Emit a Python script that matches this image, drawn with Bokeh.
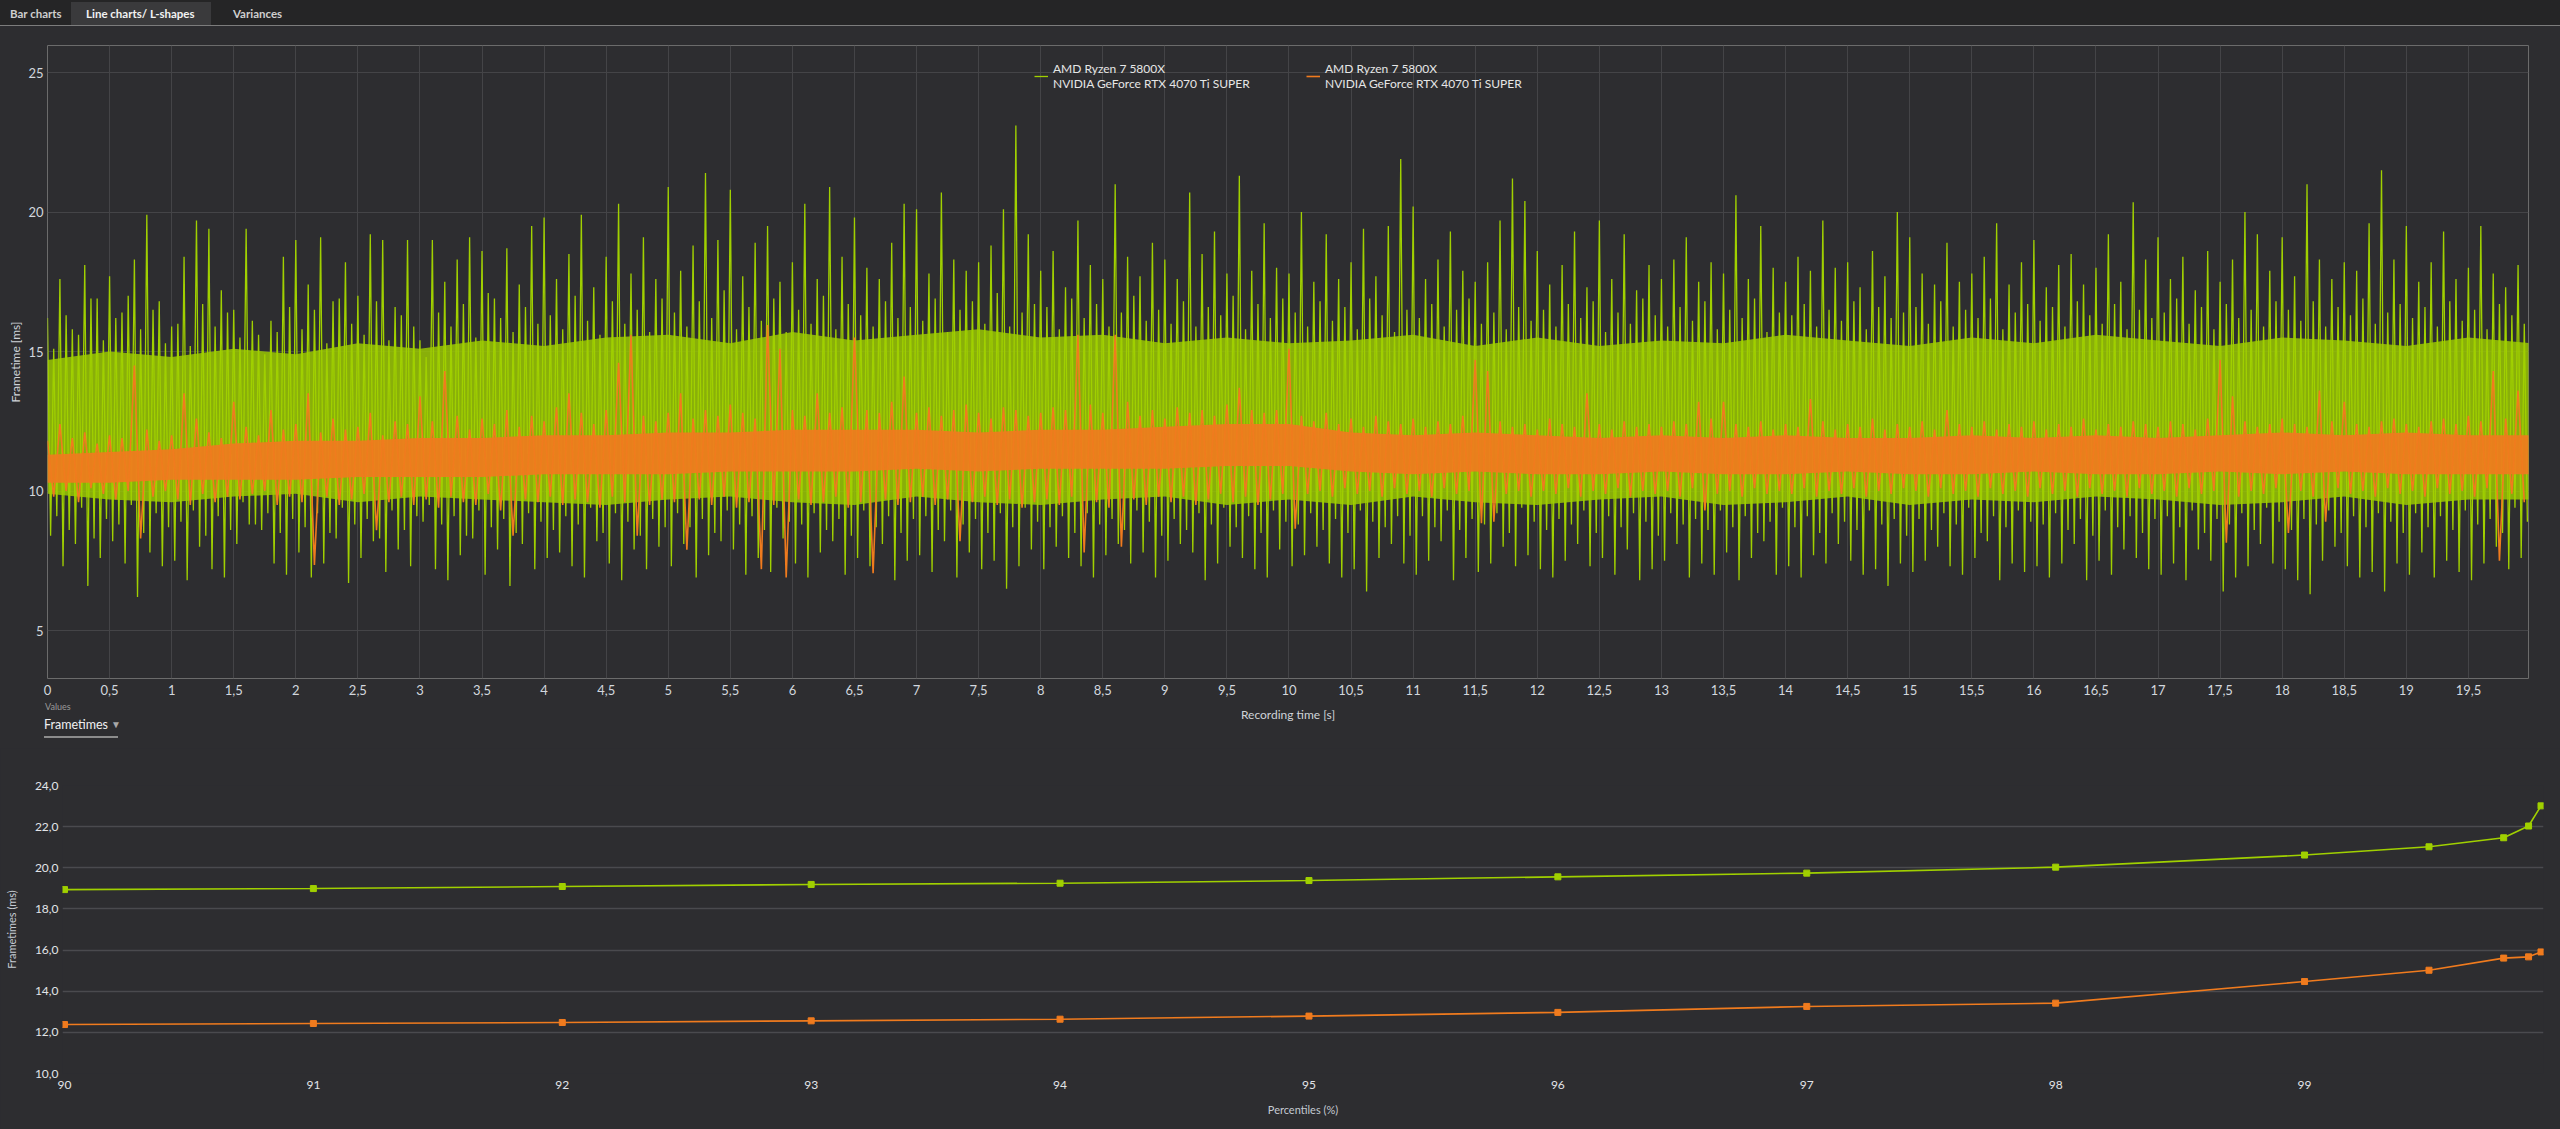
import numpy as np
from bokeh.plotting import figure
from bokeh.models import (ColumnDataSource, Range1d, FixedTicker, CustomJSTickFormatter,
                          Legend, LegendItem, Div)
from bokeh.layouts import column
from bokeh.embed import file_html
from bokeh.resources import INLINE

# ---------------- data ----------------
tab_names = ["Bar charts", "Line charts/ L-shapes", "Variances"]
series_names = ["AMD Ryzen 7 5800X\nNVIDIA GeForce RTX 4070 Ti SUPER",
                "AMD Ryzen 7 5800X\nNVIDIA GeForce RTX 4070 Ti SUPER"]
selector_caption = "Values"
selector_value = "Frametimes"

time_ticks = [0, 0.5, 1, 1.5, 2, 2.5, 3, 3.5, 4, 4.5, 5, 5.5, 6, 6.5, 7, 7.5, 8, 8.5, 9, 9.5,
              10, 10.5, 11, 11.5, 12, 12.5, 13, 13.5, 14, 14.5, 15, 15.5, 16, 16.5, 17, 17.5,
              18, 18.5, 19, 19.5]
frametime_ticks = [5, 10, 15, 20, 25]

bin_width_s = 0.1   # per bin: tallest frame, shortest frame, typical long, typical short
band_step_s = 0.5   # dense core band sampled every 0.5 s

green_hi = [
    16.2, 17.6, 15.8, 18.1, 16.9, 17.7, 16.4, 18.3, 19.9, 16.8,
    15.9, 18.4, 19.7, 19.4, 17.2, 16.5, 19.4, 15.6, 16.1, 18.4,
    19.0, 17.4, 19.1, 16.8, 18.2, 17.0, 19.2, 19.0, 16.6, 19.0,
    15.4, 19.0, 17.5, 18.3, 19.1, 18.6, 16.9, 18.7, 17.4, 19.5,
    19.8, 17.6, 18.5, 19.9, 17.3, 18.4, 20.3, 17.8, 19.1, 17.6,
    20.9, 17.9, 18.8, 21.4, 19.0, 20.8, 17.7, 18.9, 19.5, 17.5,
    18.2, 20.3, 17.6, 20.9, 18.4, 19.8, 18.0, 17.6, 18.9, 20.3,
    20.1, 17.8, 20.7, 18.3, 17.9, 18.2, 18.8, 20.1, 23.1, 19.2,
    17.9, 18.6, 17.3, 19.7, 18.1, 17.6, 21.0, 18.4, 17.7, 18.9,
    18.3, 17.6, 20.7, 18.5, 19.3, 17.8, 21.3, 17.9, 19.6, 18.0,
    17.8, 20.0, 17.5, 19.2, 17.6, 18.2, 19.4, 17.7, 19.5, 21.9,
    20.2, 17.6, 18.3, 19.3, 17.9, 17.5, 18.2, 19.7, 21.2, 20.4,
    18.6, 17.4, 18.1, 19.3, 17.3, 19.7, 17.6, 19.2, 17.2, 18.1,
    17.6, 18.3, 19.1, 17.5, 18.2, 17.8, 20.6, 17.6, 19.5, 18.0,
    17.5, 18.4, 17.9, 19.7, 18.0, 18.2, 17.3, 18.6, 17.7, 20.0,
    19.1, 17.8, 17.4, 18.9, 17.5, 17.8, 18.4, 19.6, 17.4, 18.2,
    19.0, 17.3, 18.1, 18.5, 17.4, 18.0, 19.2, 17.5, 20.35, 18.3,
    19.1, 17.6, 18.4, 17.2, 18.6, 17.5, 18.3, 20.0, 19.2, 17.9,
    19.1, 17.7, 21.0, 18.3, 17.6, 18.2, 17.9, 19.6, 21.5, 18.3,
    19.5, 17.5, 18.2, 19.3, 17.6, 18.0, 19.5, 17.8, 17.3, 18.1,
]
green_lo = [
    8.4, 7.3, 8.1, 6.6, 7.6, 8.2, 7.4, 6.2, 7.8, 7.3,
    7.5, 6.8, 8.0, 7.2, 6.9, 8.1, 8.8, 8.6, 7.4, 7.0,
    7.8, 6.9, 7.4, 8.3, 6.7, 7.6, 8.2, 7.1, 7.9, 7.3,
    8.9, 7.2, 6.8, 7.7, 8.3, 7.0, 7.9, 6.6, 8.1, 7.2,
    7.6, 7.8, 7.3, 6.9, 8.2, 7.4, 6.8, 7.9, 7.2, 8.0,
    7.3, 8.1, 6.9, 7.7, 8.2, 7.9, 7.0, 7.6, 7.1, 8.3,
    7.4, 6.9, 7.8, 8.2, 7.0, 7.6, 7.3, 8.1, 6.8, 7.5,
    7.7, 7.1, 8.2, 6.9, 7.8, 7.2, 7.5, 6.5, 7.3, 7.9,
    7.2, 8.0, 7.6, 7.3, 6.9, 7.7, 8.1, 7.4, 7.8, 6.9,
    7.5, 8.1, 7.8, 6.8, 7.4, 8.0, 7.6, 7.2, 6.9, 7.9,
    7.3, 7.7, 8.0, 7.4, 6.9, 7.2, 6.4, 7.6, 8.1, 7.4,
    7.0, 7.5, 8.2, 6.8, 7.6, 7.1, 7.4, 8.0, 7.3, 7.7,
    7.2, 6.9, 7.5, 8.1, 7.3, 7.6, 7.0, 7.9, 6.8, 7.2,
    7.5, 8.1, 6.9, 7.4, 7.0, 7.8, 6.8, 7.6, 8.2, 7.0,
    7.3, 6.9, 7.7, 7.4, 8.1, 7.5, 7.0, 7.2, 6.6, 7.4,
    7.1, 7.5, 8.0, 7.3, 7.0, 7.6, 8.2, 6.8, 7.4, 7.1,
    7.3, 6.9, 7.4, 8.1, 6.8, 7.5, 7.0, 7.9, 7.6, 7.2,
    7.0, 7.4, 6.8, 7.9, 7.5, 6.4, 6.9, 7.3, 8.1, 7.4,
    7.2, 6.8, 6.3, 7.5, 8.0, 7.3, 6.9, 7.1, 6.4, 7.4,
    7.0, 7.8, 6.9, 7.5, 7.1, 6.8, 7.4, 8.0, 7.2, 7.6,
]
green_hi2 = [
    15.1, 16.3, 15.6, 16.9, 15.4, 16.2, 17.0, 15.8, 16.5, 15.3,
    16.0, 15.2, 16.7, 15.9, 16.4, 15.5, 16.1, 14.9, 15.7, 16.6,
    15.8, 16.5, 15.3, 16.9, 16.0, 15.6, 16.8, 15.4, 16.3, 15.9,
    14.8, 16.4, 15.9, 16.7, 15.5, 17.1, 16.2, 15.7, 16.6, 16.0,
    16.3, 15.8, 17.0, 16.1, 15.6, 16.8, 16.0, 16.5, 15.7, 16.9,
    16.4, 15.9, 16.8, 16.2, 17.2, 15.8, 16.6, 16.1, 16.9, 15.7,
    16.5, 16.0, 17.0, 15.8, 16.7, 16.3, 15.9, 16.8, 16.2, 16.6,
    16.1, 16.9, 15.7, 16.5, 16.8, 16.0, 17.1, 15.9, 16.4, 16.7,
    16.6, 15.8, 16.9, 16.2, 16.7, 15.9, 16.4, 17.0, 16.1, 16.5,
    16.0, 16.8, 15.9, 16.6, 16.3, 17.0, 15.8, 16.7, 16.2, 16.9,
    16.4, 15.9, 16.8, 16.1, 16.6, 15.8, 16.9, 16.3, 15.7, 16.5,
    16.2, 16.7, 15.9, 16.5, 16.9, 16.0, 16.4, 15.8, 16.6, 16.1,
    16.5, 15.9, 16.7, 16.2, 16.8, 15.7, 16.4, 16.0, 16.9, 16.3,
    15.9, 16.6, 16.1, 16.8, 15.8, 16.5, 16.2, 16.9, 15.7, 16.4,
    16.3, 16.7, 15.9, 16.5, 16.1, 16.8, 15.8, 16.6, 16.2, 16.4,
    16.6, 16.0, 16.8, 15.9, 16.5, 16.2, 16.9, 15.8, 16.4, 16.7,
    16.1, 16.6, 15.9, 16.8, 16.3, 16.0, 16.7, 15.8, 16.5, 16.2,
    16.4, 16.9, 16.0, 16.6, 15.8, 16.7, 16.2, 16.5, 15.9, 16.8,
    16.5, 16.1, 16.8, 15.9, 16.6, 16.3, 16.9, 16.0, 16.4, 16.7,
    16.2, 16.6, 15.9, 16.8, 16.1, 16.5, 15.8, 16.7, 16.3, 16.0,
]
green_lo2 = [
    9.1, 8.6, 9.4, 8.3, 9.0, 8.8, 9.5, 8.5, 9.2, 8.7,
    8.9, 9.3, 8.4, 9.1, 8.6, 9.6, 8.8, 9.2, 8.5, 9.0,
    8.7, 9.2, 8.5, 9.4, 8.8, 9.0, 8.3, 9.3, 8.6, 9.1,
    9.5, 8.8, 9.1, 8.4, 9.3, 8.7, 9.0, 8.5, 9.2, 8.9,
    8.6, 9.1, 8.8, 9.4, 8.5, 9.2, 8.9, 8.4, 9.0, 8.7,
    9.2, 8.7, 9.0, 8.5, 9.3, 8.8, 9.1, 8.6, 9.4, 8.9,
    8.8, 9.2, 8.6, 9.0, 8.4, 9.3, 8.7, 9.1, 8.5, 9.0,
    9.1, 8.6, 9.3, 8.8, 9.0, 8.5, 9.2, 8.7, 9.4, 8.9,
    8.7, 9.1, 8.5, 9.2, 8.8, 9.0, 8.6, 9.3, 8.9, 8.4,
    9.0, 8.6, 9.2, 8.8, 9.4, 8.7, 9.1, 8.5, 9.3, 8.9,
    8.8, 9.2, 8.6, 9.0, 8.5, 9.3, 8.9, 8.7, 9.1, 8.4,
    9.1, 8.7, 9.3, 8.6, 9.0, 8.8, 9.2, 8.5, 9.4, 8.9,
    8.6, 9.0, 8.8, 9.3, 8.5, 9.1, 8.7, 9.2, 8.9, 8.4,
    9.2, 8.8, 9.0, 8.6, 9.3, 8.7, 9.1, 8.5, 8.9, 9.4,
    8.7, 9.1, 8.5, 9.2, 8.9, 8.6, 9.3, 8.8, 9.0, 8.4,
    9.0, 8.6, 9.2, 8.8, 9.4, 8.5, 9.1, 8.7, 9.3, 8.9,
    8.8, 9.2, 8.6, 9.0, 8.4, 9.3, 8.7, 9.1, 8.5, 9.0,
    9.1, 8.7, 9.3, 8.5, 9.0, 8.8, 9.2, 8.6, 9.4, 8.9,
    8.6, 9.0, 8.8, 9.3, 8.5, 9.1, 8.7, 9.2, 8.9, 8.5,
    9.2, 8.7, 9.1, 8.6, 9.3, 8.8, 9.0, 8.5, 9.4, 8.9,
]
green_core_top = [14.7, 15.0, 14.8, 15.1, 14.9, 15.3, 15.1, 15.4, 15.2, 15.5, 15.6, 15.3, 15.7, 15.4,
                  15.6, 15.8, 15.5, 15.6, 15.3, 15.5, 15.3, 15.4, 15.6, 15.2, 15.5, 15.2, 15.4, 15.3,
                  15.6, 15.4, 15.2, 15.5, 15.3, 15.6, 15.4, 15.2, 15.5, 15.4, 15.2, 15.5, 15.3]
green_core_bot = [9.9, 9.7, 9.6, 9.8, 9.9, 9.6, 9.8, 9.7, 9.6, 9.5, 9.7, 9.8, 9.6, 9.5, 9.8, 9.6,
                  9.5, 9.7, 9.8, 9.5, 9.7, 9.5, 9.8, 9.6, 9.5, 9.7, 9.8, 9.5, 9.6, 9.8, 9.5, 9.7,
                  9.6, 9.8, 9.7, 9.5, 9.6, 9.8, 9.5, 9.7, 9.7]

orange_hi = [
    11.8, 12.4, 11.9, 12.1, 11.7, 12.0, 11.9, 14.5, 12.2, 11.8,
    12.0, 13.5, 12.6, 12.1, 11.9, 13.2, 12.3, 12.0, 12.9, 12.2,
    12.4, 13.5, 12.1, 12.6, 12.2, 12.3, 12.8, 12.0, 12.5, 12.4,
    13.4, 12.5, 14.3, 12.7, 12.2, 12.6, 12.4, 12.9, 12.3, 12.7,
    12.5, 13.0, 13.5, 12.8, 12.4, 12.9, 14.6, 15.6, 12.7, 12.5,
    12.8, 13.5, 12.6, 12.9, 12.7, 13.1, 12.8, 12.6, 15.95, 15.1,
    12.9, 12.7, 13.5, 12.8, 13.0, 15.5, 12.9, 12.8, 13.2, 14.1,
    12.8, 13.0, 12.7, 12.9, 13.1, 12.8, 12.6, 13.0, 12.9, 12.7,
    12.8, 13.0, 12.9, 15.6, 13.1, 12.8, 15.6, 13.2, 12.7, 12.9,
    12.6, 13.0, 12.8, 12.9, 12.7, 13.1, 13.7, 12.9, 12.8, 12.9,
    15.1, 12.7, 12.5, 12.8, 12.4, 12.6, 12.3, 12.7, 12.5, 12.4,
    12.6, 12.3, 12.5, 12.4, 12.7, 14.7, 14.3, 12.5, 12.3, 12.4,
    12.2, 12.6, 12.4, 12.3, 13.5, 12.4, 12.2, 12.5, 12.3, 12.4,
    12.3, 12.5, 12.4, 13.2, 12.6, 13.2, 12.4, 12.3, 12.5, 12.2,
    12.4, 12.3, 13.3, 12.5, 12.2, 12.4, 12.3, 12.6, 12.2, 12.4,
    12.3, 12.5, 12.2, 12.9, 12.4, 12.3, 12.5, 12.2, 12.4, 12.3,
    12.5, 12.2, 12.4, 12.3, 12.6, 12.2, 12.4, 12.3, 12.5, 12.4,
    12.3, 12.5, 12.4, 12.2, 12.6, 14.7, 13.4, 12.5, 12.3, 12.4,
    12.6, 12.4, 12.3, 13.6, 12.5, 13.2, 12.4, 12.3, 12.5, 12.6,
    12.4, 12.3, 12.5, 12.6, 12.4, 12.7, 12.5, 14.3, 12.6, 13.6,
]
orange_lo = [
    9.8, 10.0, 9.6, 10.1, 9.9, 9.7, 10.0, 8.3, 9.8, 10.0,
    9.7, 9.5, 9.9, 9.6, 9.8, 9.7, 9.9, 10.0, 9.5, 9.8,
    9.6, 7.35, 9.8, 9.5, 9.7, 9.9, 8.6, 9.6, 9.8, 9.5,
    9.7, 9.4, 9.8, 9.6, 9.5, 9.9, 9.3, 8.4, 9.7, 9.6,
    9.8, 9.5, 9.7, 9.6, 9.4, 9.8, 9.6, 8.4, 9.5, 9.7,
    9.6, 7.9, 9.7, 9.5, 9.8, 9.4, 9.6, 7.2, 9.5, 6.9,
    9.7, 9.5, 9.6, 9.8, 9.4, 9.6, 7.05, 9.7, 9.5, 9.6,
    9.8, 9.5, 9.7, 8.2, 9.6, 9.8, 9.5, 9.7, 9.4, 9.6,
    9.7, 9.5, 9.8, 7.8, 9.6, 9.4, 8.0, 9.7, 9.5, 9.8,
    9.6, 9.8, 9.5, 9.7, 9.9, 9.6, 9.8, 9.5, 9.7, 9.9,
    8.65, 9.9, 10.0, 9.8, 10.1, 9.9, 10.0, 9.8, 10.1, 9.9,
    10.0, 9.8, 10.1, 9.9, 10.0, 8.85, 8.9, 9.9, 10.0, 9.8,
    10.0, 9.9, 10.1, 9.8, 10.0, 9.9, 10.1, 9.8, 10.0, 9.9,
    10.0, 9.8, 10.1, 9.3, 9.9, 10.0, 9.8, 10.1, 9.9, 10.0,
    9.9, 10.1, 9.8, 10.0, 9.9, 10.1, 9.8, 10.0, 9.9, 10.1,
    10.0, 9.8, 10.1, 9.9, 10.0, 9.8, 10.1, 9.9, 10.0, 9.8,
    10.1, 9.9, 10.0, 9.8, 10.1, 9.9, 10.0, 9.8, 10.1, 9.9,
    10.0, 9.8, 10.1, 9.9, 10.0, 8.15, 9.8, 10.0, 9.9, 10.1,
    8.5, 10.0, 9.8, 8.9, 10.1, 9.9, 10.0, 9.8, 10.1, 9.9,
    10.0, 9.8, 10.1, 9.9, 10.0, 9.8, 10.1, 7.5, 9.9, 9.6,
]
orange_core_top = [11.3, 11.4, 11.5, 11.7, 11.8, 11.8, 11.9, 11.9, 12.0, 12.0, 12.1, 12.1, 12.2, 12.2,
                   12.2, 12.1, 12.2, 12.2, 12.3, 12.4, 12.4, 12.1, 12.0, 12.1, 12.0, 11.9, 12.0, 11.9,
                   12.0, 11.9, 11.9, 12.0, 11.9, 12.0, 11.9, 12.0, 12.1, 12.0, 12.1, 12.0, 12.0]
orange_core_bot = [10.3, 10.3, 10.4, 10.4, 10.4, 10.5, 10.5, 10.5, 10.6, 10.6, 10.6, 10.7, 10.7, 10.7,
                   10.8, 10.7, 10.8, 10.8, 10.8, 10.9, 10.9, 10.7, 10.6, 10.7, 10.6, 10.6, 10.7, 10.6,
                   10.6, 10.7, 10.6, 10.6, 10.7, 10.6, 10.6, 10.7, 10.6, 10.7, 10.6, 10.6, 10.6]

percentiles = [90, 91, 92, 93, 94, 95, 96, 97, 98, 99, 99.5, 99.8, 99.9, 99.95]
green_pct = [18.94, 18.99, 19.09, 19.19, 19.25, 19.38, 19.56, 19.74, 20.03, 20.62, 21.02, 21.46, 22.03, 23.01]
orange_pct = [12.38, 12.43, 12.48, 12.56, 12.64, 12.79, 12.97, 13.26, 13.42, 14.47, 15.02, 15.61, 15.67, 15.91]
pct_ticks = [90, 91, 92, 93, 94, 95, 96, 97, 98, 99]
pct_y_ticks = [10, 12, 14, 16, 18, 20, 22, 24]

# ---------------- style ----------------
BG = "#2d2d30"
GREEN = "#a0d000"
ORANGE = "#f07b1e"
FONT = "Lato"
GRID = "#444447"


def zigzag(step, *series):
    """Interleave several per-bin series into one frame-by-frame polyline."""
    n = len(series[0])
    k = len(series)
    t = np.arange(n) * step
    x = np.empty(n * k)
    y = np.empty(n * k)
    for j, s in enumerate(series):
        x[j::k] = t + step * j / k
        y[j::k] = s
    return x, y


gx, gy = zigzag(bin_width_s, green_hi, green_lo, green_hi2, green_lo2)
ox, oy = zigzag(bin_width_s, orange_hi, orange_lo)
band_t = np.arange(len(green_core_top)) * band_step_s

src_g = ColumnDataSource(dict(x=gx, y=gy))
src_o = ColumnDataSource(dict(x=ox, y=oy))
src_gb = ColumnDataSource(dict(t=band_t, lo=green_core_bot, hi=green_core_top))
src_ob = ColumnDataSource(dict(t=band_t, lo=orange_core_bot, hi=orange_core_top))

comma_fmt = CustomJSTickFormatter(code="return String(tick).replace('.', ',');")
comma1_fmt = CustomJSTickFormatter(code="return tick.toFixed(1).replace('.', ',');")

# ---------------- tab bar ----------------
tab_html = (
    '<div style="position:relative;width:2560px;height:26px;background:#252526;'
    'font-family:Lato,sans-serif;font-weight:700;font-size:11.5px;color:#cfcfcf;">'
    '<div style="position:absolute;left:0;top:25px;width:2560px;height:1px;background:#7c7c7c;"></div>'
    '<div style="position:absolute;left:71px;top:2px;width:140px;height:23px;background:#3a3a3c;"></div>'
    f'<span style="position:absolute;left:10px;top:6px;">{tab_names[0]}</span>'
    f'<span style="position:absolute;left:86px;top:6px;color:#f2f2f2;">{tab_names[1]}</span>'
    f'<span style="position:absolute;left:233px;top:6px;">{tab_names[2]}</span>'
    '</div>'
)
tabs = Div(text=tab_html, width=2560, height=26, margin=0,
           styles={"background-color": "#252526"})

# ---------------- frametime chart ----------------
# left border kept equal to the L-shape chart's (62 px); the plot is shifted 15 px left
p1 = figure(width=2575, height=722, x_range=Range1d(0, 19.984), y_range=Range1d(3.28, 25.97),
            output_backend="svg", toolbar_location=None, margin=(0, 0, 0, -15),
            min_border_left=62, min_border_right=17, min_border_top=19, min_border_bottom=70,
            background_fill_color=BG, border_fill_color=BG, outline_line_color="#6b6b6b")

p1.varea(x="t", y1="lo", y2="hi", source=src_gb, fill_color=GREEN, fill_alpha=0.8)
g_line = p1.line(x="x", y="y", source=src_g, line_color=GREEN, line_width=1.3)
p1.varea(x="t", y1="lo", y2="hi", source=src_ob, fill_color=ORANGE, fill_alpha=0.92)
o_line = p1.line(x="x", y="y", source=src_o, line_color=ORANGE, line_width=1.6)

p1.xaxis.ticker = FixedTicker(ticks=time_ticks)
p1.yaxis.ticker = FixedTicker(ticks=frametime_ticks)
p1.xaxis.formatter = comma_fmt
p1.xaxis.axis_label = "Recording time [s]"
p1.yaxis.axis_label = "Frametime [ms]"
for ax in (p1.xaxis[0], p1.yaxis[0]):
    ax.axis_line_color = None
    ax.major_tick_line_color = None
    ax.minor_tick_line_color = None
    ax.major_tick_out = 0
    ax.major_tick_in = 0
    ax.major_label_text_font = FONT
    ax.major_label_text_font_size = "13px"
    ax.major_label_text_color = "#d2d7de"
    ax.axis_label_text_font = FONT
    ax.axis_label_text_font_size = "12px"
    ax.axis_label_text_font_style = "normal"
    ax.axis_label_text_color = "#cfd3d8"
p1.xaxis.major_label_standoff = 6
p1.xaxis.axis_label_standoff = 9
p1.yaxis.major_label_standoff = 4
p1.yaxis.axis_label_standoff = 2
p1.xgrid.grid_line_color = GRID
p1.ygrid.grid_line_color = GRID

for i, (rend, lx) in enumerate([(g_line, 987), (o_line, 1259)]):
    leg = Legend(items=[LegendItem(label=series_names[i], renderers=[rend])],
                 location=(lx, 587), orientation="horizontal",
                 background_fill_alpha=0, border_line_alpha=0, padding=0, margin=0,
                 glyph_width=14, glyph_height=14, label_standoff=5,
                 label_text_font=FONT, label_text_font_size="12px",
                 label_text_color="#e6e6e6", label_text_line_height=1.25)
    p1.add_layout(leg)

# ---------------- "Values / Frametimes" selector (overlays the bottom margin of p1) ----------------
ctrl_html = (
    '<div style="position:relative;width:300px;height:48px;font-family:Lato,sans-serif;">'
    f'<span style="position:absolute;left:45px;top:1px;font-size:9px;color:#9a9a9a;">{selector_caption}</span>'
    f'<span style="position:absolute;left:44px;top:16px;font-size:12.5px;color:#f0f0f0;">{selector_value}</span>'
    '<span style="position:absolute;left:111px;top:17px;font-size:10px;color:#a8a8a8;">\u25bc</span>'
    '<div style="position:absolute;left:44px;top:36px;width:74px;height:2px;background:#8c8c8c;"></div>'
    '</div>'
)
ctrl = Div(text=ctrl_html, width=300, height=48, margin=(-48, 0, 0, 0),
           styles={"position": "relative", "z-index": "5"})

# ---------------- L-shape chart ----------------
p2 = figure(width=2560, height=381, x_range=Range1d(89.992, 99.96), y_range=Range1d(10, 24),
            output_backend="svg", toolbar_location=None, margin=0,
            min_border_left=62, min_border_right=16, min_border_top=37, min_border_bottom=56,
            background_fill_color=BG, border_fill_color=BG, outline_line_color=None)

p2.line(percentiles, green_pct, line_color=GREEN, line_width=1.6)
p2.scatter(percentiles, green_pct, marker="square", size=6, fill_color=GREEN, line_color=GREEN)
p2.line(percentiles, orange_pct, line_color=ORANGE, line_width=1.6)
p2.scatter(percentiles, orange_pct, marker="square", size=6, fill_color=ORANGE, line_color=ORANGE)

p2.xaxis.ticker = FixedTicker(ticks=pct_ticks)
p2.yaxis.ticker = FixedTicker(ticks=pct_y_ticks)
p2.yaxis.formatter = comma1_fmt
p2.xaxis.axis_label = "Percentiles (%)"
p2.yaxis.axis_label = "Frametimes (ms)"
for ax in (p2.xaxis[0], p2.yaxis[0]):
    ax.axis_line_color = None
    ax.major_tick_line_color = None
    ax.minor_tick_line_color = None
    ax.major_tick_out = 0
    ax.major_tick_in = 0
    ax.major_label_text_font = FONT
    ax.major_label_text_font_size = "12px"
    ax.major_label_text_color = "#e2e4e8"
    ax.axis_label_text_font = FONT
    ax.axis_label_text_font_size = "11px"
    ax.axis_label_text_font_style = "normal"
    ax.axis_label_text_color = "#c4cad2"
p2.xaxis.major_label_standoff = 7
p2.xaxis.axis_label_standoff = 11
p2.yaxis.major_label_standoff = 4
p2.yaxis.axis_label_standoff = 14
p2.xgrid.grid_line_color = None
p2.ygrid.grid_line_color = "#4a4a4e"
p2.ygrid.grid_line_width = 1.5

p = column(tabs, p1, ctrl, p2, spacing=0, styles={"background-color": BG})

open("out.html", "w").write(file_html(p, INLINE))
